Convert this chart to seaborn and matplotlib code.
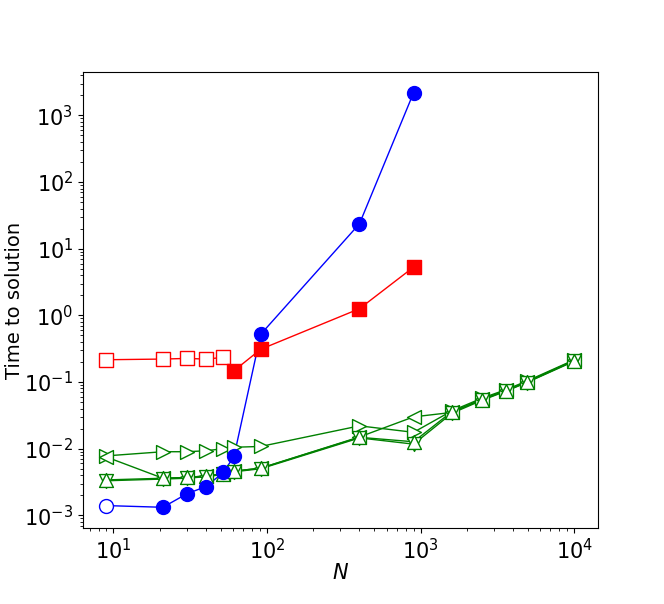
import numpy as np
import pandas as pd
import matplotlib
matplotlib.use("Agg")
import matplotlib.pyplot as plt
import seaborn as sns

# problem sizes
n_small = [9, 21, 30, 40, 52, 61, 91, 400, 900]
n_full = [9, 21, 30, 40, 52, 61, 91, 400, 900, 1600, 2500, 3600, 4900, 10000]

# blue circles (first point open)
t_blue = [0.0014, 0.00132, 0.0021, 0.0027, 0.0044, 0.0077, 0.52, 23.7, 2190]
open_blue = 1

# red squares (first five open)
t_red = [0.216, 0.221, 0.226, 0.221, 0.234, 0.148, 0.31, 1.26, 5.3]
open_red = 5

# green triangles (all open)
t_right = [0.0078, 0.0090, 0.0090, 0.0093, 0.0100, 0.0105, 0.0108, 0.022, 0.0176,
           0.037, 0.057, 0.077, 0.103, 0.215]
t_left = [0.0075, 0.0036, 0.0037, 0.0039, 0.0042, 0.0046, 0.0051, 0.0150, 0.030,
          0.035, 0.055, 0.075, 0.100, 0.212]
t_down = [0.0033, 0.0035, 0.0036, 0.0038, 0.0041, 0.0045, 0.0050, 0.0145, 0.0117,
          0.034, 0.053, 0.073, 0.098, 0.205]
t_up = [0.0034, 0.0036, 0.0037, 0.0039, 0.0042, 0.0046, 0.0051, 0.0148, 0.0127,
        0.036, 0.054, 0.074, 0.099, 0.208]

sns.set_style("ticks")
plt.rcParams['font.family'] = ['DejaVu Sans']
plt.rcParams.update({'text.color': 'black', 'axes.labelcolor': 'black',
                     'xtick.color': 'black', 'ytick.color': 'black',
                     'axes.edgecolor': 'black'})

fig = plt.figure(figsize=(6.64, 6.04), dpi=100)
ax = fig.add_axes([0.125, 0.1258, 0.775, 0.755])


def draw(n, t, color, marker, n_open):
    df = pd.DataFrame({'N': n, 't': t})
    sns.lineplot(data=df, x='N', y='t', color=color, lw=1, ax=ax,
                 estimator=None, sort=False, zorder=2)
    op = df.iloc[:n_open]
    fl = df.iloc[n_open:]
    if len(op):
        sns.scatterplot(data=op, x='N', y='t', marker=marker, s=100, color='white',
                        edgecolor=color, linewidth=1, ax=ax, zorder=3)
    if len(fl):
        sns.scatterplot(data=fl, x='N', y='t', marker=marker, s=100, color=color,
                        edgecolor=color, linewidth=1, ax=ax, zorder=3)


for tt, mk in [(t_right, '>'), (t_left, '<'), (t_down, 'v'), (t_up, '^')]:
    draw(n_full, tt, 'green', mk, len(n_full))
draw(n_small, t_red, 'red', 's', open_red)
draw(n_small, t_blue, 'blue', 'o', open_blue)

ax.set_xscale('log')
ax.set_yscale('log')
ax.set_xlabel('$N$', fontsize=15, labelpad=0)
ax.set_ylabel('Time to solution', fontsize=14, labelpad=0)
ax.tick_params(axis='both', which='major', labelsize=15)
for s in ax.spines.values():
    s.set_visible(True)

fig.savefig('out.png', dpi=100)
